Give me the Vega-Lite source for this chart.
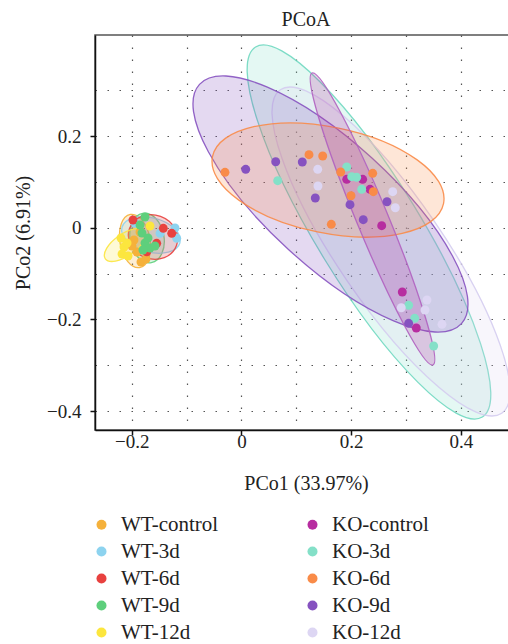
{
  "$schema": "https://vega.github.io/schema/vega-lite/v6.json",
  "autosize": "none",
  "padding": {"left": 95, "top": 35, "right": 0, "bottom": 214},
  "width": 414,
  "height": 395,
  "background": "white",
  "title": {"text": "PCoA", "font": "Liberation Serif", "fontSize": 20, "fontWeight": "normal", "color": "#222", "anchor": "middle", "offset": 5, "dx": 4},
  "config": {
    "font": "Liberation Serif",
    "view": {"stroke": "#555", "strokeWidth": 1.5},
    "axis": {
      "labelFont": "Liberation Serif", "titleFont": "Liberation Serif",
      "labelFontSize": 19, "titleFontSize": 20, "titleFontWeight": "normal",
      "labelColor": "#222", "titleColor": "#222",
      "domainColor": "#111", "domainWidth": 1.5,
      "tickColor": "#111", "tickWidth": 1.5, "tickSize": 5,
      "grid": true, "gridColor": "#555", "gridWidth": 1.2, "gridDash": [1.5, 10.5],
      "format": "~g"
    }
  },
  "datasets": {
    "pts": [
      {"g": "KO-control", "x": 0.1919, "y": 0.1056},
      {"g": "KO-control", "x": 0.2210, "y": 0.1056},
      {"g": "KO-control", "x": 0.2344, "y": 0.0838},
      {"g": "KO-control", "x": 0.2557, "y": 0.0044},
      {"g": "KO-control", "x": 0.2933, "y": -0.1403},
      {"g": "KO-control", "x": 0.3188, "y": -0.2188},
      {"g": "KO-3d", "x": 0.0660, "y": 0.1026},
      {"g": "KO-3d", "x": 0.1919, "y": 0.1324},
      {"g": "KO-3d", "x": 0.2010, "y": 0.1113},
      {"g": "KO-3d", "x": 0.2101, "y": 0.1100},
      {"g": "KO-3d", "x": 0.2192, "y": 0.0838},
      {"g": "KO-3d", "x": 0.3049, "y": -0.1693},
      {"g": "KO-3d", "x": 0.3159, "y": -0.1977},
      {"g": "KO-3d", "x": 0.3505, "y": -0.2581},
      {"g": "KO-6d", "x": -0.0301, "y": 0.1209},
      {"g": "KO-6d", "x": 0.1231, "y": 0.1593},
      {"g": "KO-6d", "x": 0.1481, "y": 0.1564},
      {"g": "KO-6d", "x": 0.1809, "y": 0.1215},
      {"g": "KO-6d", "x": 0.2393, "y": 0.1187},
      {"g": "KO-6d", "x": 0.2404, "y": 0.0786},
      {"g": "KO-6d", "x": 0.1997, "y": 0.0698},
      {"g": "KO-6d", "x": 0.1638, "y": 0.0074},
      {"g": "KO-9d", "x": 0.0077, "y": 0.1274},
      {"g": "KO-9d", "x": 0.0624, "y": 0.1440},
      {"g": "KO-9d", "x": 0.1109, "y": 0.1434},
      {"g": "KO-9d", "x": 0.1346, "y": 0.0648},
      {"g": "KO-9d", "x": 0.1979, "y": 0.0502},
      {"g": "KO-9d", "x": 0.2654, "y": 0.0567},
      {"g": "KO-9d", "x": 0.2221, "y": 0.0175},
      {"g": "KO-9d", "x": 0.3049, "y": -0.2086},
      {"g": "KO-12d", "x": 0.1390, "y": 0.1274},
      {"g": "KO-12d", "x": 0.1395, "y": 0.0910},
      {"g": "KO-12d", "x": 0.2758, "y": 0.0786},
      {"g": "KO-12d", "x": 0.2805, "y": 0.0436},
      {"g": "KO-12d", "x": 0.3383, "y": -0.1578},
      {"g": "KO-12d", "x": 0.2914, "y": -0.1746},
      {"g": "KO-12d", "x": 0.3347, "y": -0.1796},
      {"g": "KO-12d", "x": 0.3657, "y": -0.2108},
      {"g": "WT-3d", "x": -0.1182, "y": -0.0231},
      {"g": "WT-3d", "x": -0.1486, "y": -0.0122},
      {"g": "WT-3d", "x": -0.1942, "y": 0.0103},
      {"g": "WT-3d", "x": -0.1213, "y": -0.0007},
      {"g": "WT-control", "x": -0.1961, "y": -0.0268},
      {"g": "WT-control", "x": -0.1906, "y": -0.0530},
      {"g": "WT-control", "x": -0.1833, "y": -0.0748},
      {"g": "WT-control", "x": -0.1742, "y": -0.0683},
      {"g": "WT-control", "x": -0.1997, "y": -0.0399},
      {"g": "WT-control", "x": -0.1851, "y": -0.0094},
      {"g": "WT-6d", "x": -0.1426, "y": -0.0013},
      {"g": "WT-6d", "x": -0.1273, "y": -0.0122},
      {"g": "WT-6d", "x": -0.1547, "y": -0.0340},
      {"g": "WT-6d", "x": -0.1729, "y": -0.0524},
      {"g": "WT-6d", "x": -0.1979, "y": 0.0168},
      {"g": "WT-9d", "x": -0.1851, "y": 0.0059},
      {"g": "WT-9d", "x": -0.1760, "y": 0.0233},
      {"g": "WT-9d", "x": -0.1815, "y": -0.0116},
      {"g": "WT-9d", "x": -0.1760, "y": -0.0334},
      {"g": "WT-9d", "x": -0.1669, "y": -0.0443},
      {"g": "WT-9d", "x": -0.1797, "y": -0.0487},
      {"g": "WT-9d", "x": -0.1578, "y": -0.0399},
      {"g": "WT-9d", "x": -0.1705, "y": -0.0225},
      {"g": "WT-12d", "x": -0.2198, "y": -0.0225},
      {"g": "WT-12d", "x": -0.2143, "y": -0.0421},
      {"g": "WT-12d", "x": -0.2179, "y": -0.0574},
      {"g": "WT-12d", "x": -0.2070, "y": -0.0617},
      {"g": "WT-12d", "x": -0.1669, "y": 0.0037},
      {"g": "WT-12d", "x": -0.2088, "y": -0.0334}
    ],
    "ell": [
      {"g": "KO-3d", "x": 0.2325, "y": -0.0094, "a": 0.3958, "angle": 58.5},
      {"g": "KO-12d", "x": 0.2727, "y": -0.0519, "a": 0.3575, "angle": 55.6},
      {"g": "KO-9d", "x": 0.1623, "y": 0.0517, "a": 0.3235, "angle": 42.4},
      {"g": "KO-6d", "x": 0.1578, "y": 0.1041, "a": 0.2150, "angle": 11.5},
      {"g": "KO-control", "x": 0.2389, "y": 0.0190, "a": 0.2882, "angle": 67.5},
      {"g": "WT-control", "x": -0.1942, "y": -0.0290, "a": 0.0492, "angle": 80},
      {"g": "WT-9d", "x": -0.1723, "y": -0.0225, "a": 0.0456, "angle": 80},
      {"g": "WT-3d", "x": -0.1651, "y": -0.0159, "a": 0.0547, "angle": 15},
      {"g": "WT-6d", "x": -0.1614, "y": -0.0203, "a": 0.0456, "angle": 20},
      {"g": "WT-12d", "x": -0.2125, "y": -0.0377, "a": 0.0438, "angle": -35}
    ]
  },
  "encoding": {
    "x": {"field": "x", "type": "quantitative", "title": "PCo1 (33.97%)",
      "scale": {"domain": [-0.2672, 0.4879], "nice": false, "zero": false},
      "axis": {"values": [-0.2, -0.1, 0, 0.1, 0.2, 0.3, 0.4], "labelPadding": -3, "titlePadding": 22, "titleX": 211,
        "labelExpr": "round(datum.value*10) % 2 == 0 ? datum.label : ''",
        "tickOpacity": {"condition": {"test": "round(datum.value*10) % 2 == 0", "value": 1}, "value": 0}}},
    "y": {"field": "y", "type": "quantitative", "title": "PCo2 (6.91%)",
      "scale": {"domain": [-0.4414, 0.4205], "nice": false, "zero": false},
      "axis": {"values": [-0.4, -0.3, -0.2, -0.1, 0, 0.1, 0.2, 0.3], "labelPadding": 9, "titlePadding": 13,
        "labelExpr": "round(datum.value*10) % 2 == 0 ? datum.label : ''",
        "tickOpacity": {"condition": {"test": "round(datum.value*10) % 2 == 0", "value": 1}, "value": 0}}}
  },
  "layer": [
    {"mark": {"type": "rule", "color": "#111", "strokeWidth": 2}, "encoding": {"x": {"datum": 0, "type": "quantitative"}, "y": null}},
    {"mark": {"type": "rule", "color": "#111", "strokeWidth": 2}, "encoding": {"y": {"datum": 0, "type": "quantitative"}, "x": null}},
    {
      "data": {"name": "ell"},
      "mark": {"type": "point", "filled": true, "fillOpacity": 0.22, "strokeOpacity": 0.9, "strokeWidth": 1.3},
      "encoding": {
        "fill": {"field": "g", "type": "nominal", "legend": null,
          "scale": {"range": ["#ddd6f3","#84e0c8","#f98b48","#8652c0","#b72da0","#fce63e","#8dd3ef","#e8413f","#5ecf7c","#f5b13b"]}},
        "stroke": {"field": "g", "type": "nominal", "legend": null,
          "scale": {"range": ["#d4ccf0","#6fd8c0","#f98b48","#8652c0","#b060c0","#fce63e","#8dd3ef","#e8413f","#5ecf7c","#f5b13b"]}},
        "shape": {"field": "g", "type": "nominal", "legend": null,
          "scale": {"range": [
                      "M1,0C1,0.1486 0.5523,0.269 0,0.269C-0.5523,0.269 -1,0.1486 -1,0C-1,-0.1486 -0.5523,-0.269 0,-0.269C0.5523,-0.269 1,-0.1486 1,0Z",
                      "M1,0C1,0.1326 0.5523,0.24 0,0.24C-0.5523,0.24 -1,0.1326 -1,0C-1,-0.1326 -0.5523,-0.24 0,-0.24C0.5523,-0.24 1,-0.1326 1,0Z",
                      "M1,0C1,0.2485 0.5523,0.45 0,0.45C-0.5523,0.45 -1,0.2485 -1,0C-1,-0.2485 -0.5523,-0.45 0,-0.45C0.5523,-0.45 1,-0.2485 1,0Z",
                      "M1,0C1,0.1928 0.5523,0.349 0,0.349C-0.5523,0.349 -1,0.1928 -1,0C-1,-0.1928 -0.5523,-0.349 0,-0.349C0.5523,-0.349 1,-0.1928 1,0Z",
                      "M1,0C1,0.0552 0.5523,0.1 0,0.1C-0.5523,0.1 -1,0.0552 -1,0C-1,-0.0552 -0.5523,-0.1 0,-0.1C0.5523,-0.1 1,-0.0552 1,0Z",
                      "M1,0C1,0.2541 0.5523,0.46 0,0.46C-0.5523,0.46 -1,0.2541 -1,0C-1,-0.2541 -0.5523,-0.46 0,-0.46C0.5523,-0.46 1,-0.2541 1,0Z",
                      "M1,0C1,0.3148 0.5523,0.57 0,0.57C-0.5523,0.57 -1,0.3148 -1,0C-1,-0.3148 -0.5523,-0.57 0,-0.57C0.5523,-0.57 1,-0.3148 1,0Z",
                      "M1,0C1,0.486 0.5523,0.88 0,0.88C-0.5523,0.88 -1,0.486 -1,0C-1,-0.486 -0.5523,-0.88 0,-0.88C0.5523,-0.88 1,-0.486 1,0Z",
                      "M1,0C1,0.3756 0.5523,0.68 0,0.68C-0.5523,0.68 -1,0.3756 -1,0C-1,-0.3756 -0.5523,-0.68 0,-0.68C0.5523,-0.68 1,-0.3756 1,0Z",
                      "M1,0C1,0.3093 0.5523,0.56 0,0.56C-0.5523,0.56 -1,0.3093 -1,0C-1,-0.3093 -0.5523,-0.56 0,-0.56C0.5523,-0.56 1,-0.3093 1,0Z"
                    ]}},
        "size": {"field": "a", "type": "quantitative", "legend": null,
          "scale": {"type": "pow", "exponent": 2, "domain": [0, 1], "range": [0, 1202532], "zero": true}},
        "angle": {"field": "angle", "type": "quantitative", "scale": null}
      }
    },
    {
      "data": {"name": "pts"},
      "mark": {"type": "circle", "size": 80, "opacity": 1},
      "encoding": {
        "color": {"field": "g", "type": "nominal",
          "scale": {"domain": ["WT-control","WT-3d","WT-6d","WT-9d","WT-12d","KO-control","KO-3d","KO-6d","KO-9d","KO-12d"],
                    "range": ["#f5b13b","#8dd3ef","#e8413f","#5ecf7c","#fce63e","#b72da0","#84e0c8","#f98b48","#8652c0","#ddd6f3"]},
          "legend": {"orient": "none", "legendX": -4, "legendY": 479, "columns": 2, "direction": "vertical", "title": null,
            "symbolType": "circle", "symbolSize": 100, "symbolStrokeWidth": 0, "symbolOpacity": 1,
            "labelFont": "Liberation Serif", "labelFontSize": 21, "labelColor": "#222", "labelOffset": 9,
            "rowPadding": 5, "columnPadding": 83, "padding": 0}}
      }
    }
  ]
}
